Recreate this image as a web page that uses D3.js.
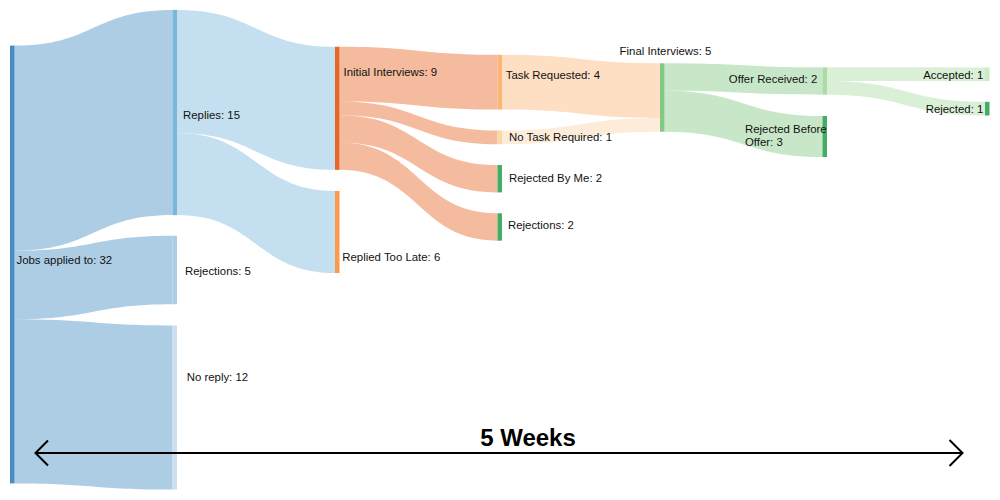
<!DOCTYPE html>
<html>
<head>
<meta charset="utf-8">
<script src="https://cdn.jsdelivr.net/npm/d3@7"></script>
<style>
    body { margin: 0; background: #ffffff; }
    svg { display: block; font-family: "Liberation Sans", Arial, sans-serif; }
</style>
</head>
<body>
<script>
// Données du diagramme
const nodeNames = [
    'Jobs applied to', 'Replies', 'Rejections', 'No reply',
    'Initial Interviews', 'Replied Too Late',
    'Task Requested', 'No Task Required', 'Rejected By Me', 'Rejections',
    'Final Interviews', 'Offer Received', 'Rejected Before Offer',
    'Accepted', 'Rejected'
]
// colonne de chaque noeud (étape)
const nodeColumns = [0, 1, 1, 1, 2, 2, 3, 3, 3, 3, 4, 5, 5, 6, 6]
// position verticale (centre du noeud, fraction de la hauteur)
const nodeCenters = [0.529, 0.225, 0.540, 0.815, 0.2166, 0.464, 0.1644, 0.2746, 0.3574, 0.454, 0.195, 0.162, 0.273, 0.1486, 0.2174]

const linkSources = [0, 0, 0, 1, 1, 4, 4, 4, 4, 6, 7, 10, 10, 11, 11]
const linkTargets = [1, 2, 3, 4, 5, 6, 7, 8, 9, 10, 10, 11, 12, 13, 14]
const linkValues  = [15, 5, 12, 9, 6, 4, 1, 2, 2, 4, 1, 2, 3, 1, 1]

const palette = ['#3182bd', '#6baed6', '#9ecae1', '#c6dbef', '#e6550d', '#fd8d3c', '#fdae6b', '#fdd0a2',
                 '#31a354', '#74c476', '#a1d99b', '#c7e9c0']
const nodeColorIdx = [0, 1, 2, 3, 4, 5, 6, 7, 8, 8, 9, 10, 8, 11, 8]

const timeLabel = '5 Weeks'

// placement des étiquettes : [dx depuis le bord droit du noeud, dy depuis le centre, ancrage]
const labelPlacement = [
    [2, -0.6, 'start'], [6, 6.4, 'start'], [8, 5, 'start'], [9.7, -27, 'start'],
    [4, -32.6, 'start'], [2.8, 28.7, 'start'],
    [3.7, -3, 'start'], [7, 3.7, 'start'], [7, 3.3, 'start'], [6, 2.3, 'start'],
    [1, -42.5, 'middle'], [-9.7, 2.3, 'end'], [-82, -3.2, 'start'],
    [-6.2, 4.7, 'end'], [-6.2, 4.6, 'end']
]

const width = 1000, height = 500
const nodeWidth = 4.5

const svg = d3.select('body').append('svg')
    .attr('width', width)
    .attr('height', height)

// Echelles
const x = d3.scaleLinear().domain([0, 6]).range([10, 985])
const y = d3.scaleLinear().domain([0, 1]).range([0, height])
const v = d3.scaleLinear().domain([0, 32]).range([0, 437.8])

// Construit les noeuds
const nodes = nodeNames.map((name, i) => {
    const inVal = d3.sum(linkValues.filter((_, j) => linkTargets[j] == i))
    const outVal = d3.sum(linkValues.filter((_, j) => linkSources[j] == i))
    const value = Math.max(inVal, outVal)
    const h = v(value)
    const cy = y(nodeCenters[i])
    return {
        name, value,
        x0: x(nodeColumns[i]), x1: x(nodeColumns[i]) + nodeWidth,
        y0: cy - h / 2, y1: cy + h / 2, cy,
        color: palette[nodeColorIdx[i]],
        outY: cy - h / 2, inY: cy - h / 2
    }
})

// Construit les liens (empilés dans l'ordre)
const links = linkValues.map((value, j) => {
    const s = nodes[linkSources[j]], t = nodes[linkTargets[j]]
    const w = v(value)
    const l = { value, source: s, target: t, sy0: s.outY, sy1: s.outY + w, ty0: t.inY, ty1: t.inY + w }
    s.outY += w
    t.inY += w
    return l
})

const linkPath = l => {
    const x0 = l.source.x1, x1 = l.target.x0
    const xi = d3.interpolateNumber(x0, x1)
    const xa = xi(0.5), xb = xi(0.5)
    return `M${x0},${l.sy0}C${xa},${l.sy0} ${xb},${l.ty0} ${x1},${l.ty0}`
        + `L${x1},${l.ty1}C${xb},${l.ty1} ${xa},${l.sy1} ${x0},${l.sy1}Z`
}

// Dessine les liens
svg.append('g')
    .selectAll('path')
    .data(links)
    .join('path')
    .attr('d', linkPath)
    .attr('fill', d => d.source.color)
    .attr('fill-opacity', 0.4)

// Dessine les noeuds
svg.append('g')
    .selectAll('rect')
    .data(nodes)
    .join('rect')
    .attr('x', d => d.x0)
    .attr('y', d => d.y0)
    .attr('width', d => d.x1 - d.x0)
    .attr('height', d => d.y1 - d.y0)
    .attr('fill', d => d.color)
    .attr('fill-opacity', 0.9)

// Etiquettes
const labels = svg.append('g')
    .selectAll('text')
    .data(nodes)
    .join('text')
    .attr('x', (d, i) => d.x1 + labelPlacement[i][0])
    .attr('y', (d, i) => d.cy + labelPlacement[i][1])
    .attr('text-anchor', (d, i) => labelPlacement[i][2])
    .attr('font-size', '11.4px')
    .attr('fill', '#111111')

labels.each(function (d, i) {
    const el = d3.select(this)
    const txt = `${d.name}: ${d.value}`
    if (d.name == 'Rejected Before Offer') {
        el.append('tspan').text('Rejected Before')
        el.append('tspan').attr('x', d.x1 + labelPlacement[i][0]).attr('dy', 12.7).text(`Offer: ${d.value}`)
    } else {
        el.text(txt)
    }
})

// Flèche de durée
const arrowY = 453
const ax0 = 35.5, ax1 = 962.5
const arrow = svg.append('g')
    .attr('stroke', '#000000')
    .attr('stroke-width', 2)
    .attr('fill', 'none')
arrow.append('line')
    .attr('x1', ax0).attr('x2', ax1)
    .attr('y1', arrowY).attr('y2', arrowY)
arrow.append('polyline')
    .attr('points', `${ax0 + 12.5},${arrowY - 12.5} ${ax0},${arrowY} ${ax0 + 12.5},${arrowY + 12.5}`)
arrow.append('polyline')
    .attr('points', `${ax1 - 13},${arrowY - 13} ${ax1},${arrowY} ${ax1 - 13},${arrowY + 13}`)

svg.append('text')
    .attr('x', 528)
    .attr('y', 446)
    .attr('text-anchor', 'middle')
    .attr('font-size', '24px')
    .attr('font-weight', 'bold')
    .attr('fill', '#000000')
    .text(timeLabel)
</script>
</body>
</html>
